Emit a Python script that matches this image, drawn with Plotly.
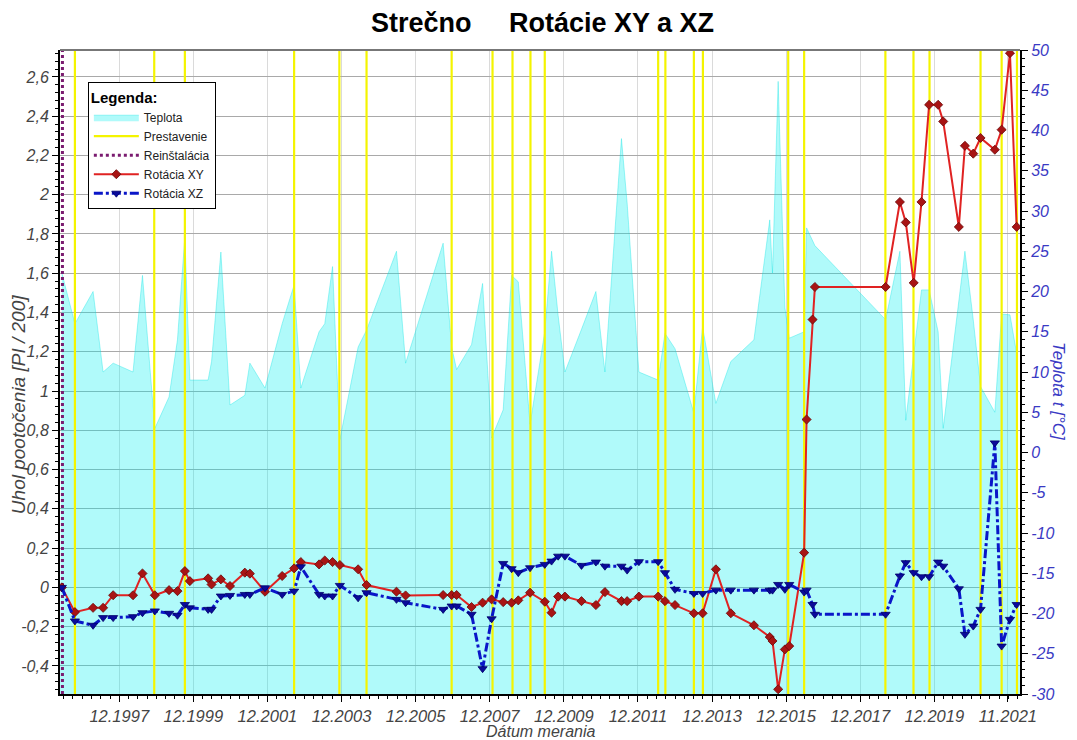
import plotly.graph_objects as go

# ---------------- data ----------------
dates = [
    "1996-05-14", "1996-09-20", "1997-03-18", "1997-06-25", "1997-10-02",
    "1998-04-16", "1998-07-18", "1998-11-17", "1999-04-06", "1999-06-28",
    "1999-09-09", "1999-10-28", "2000-04-25", "2000-05-29", "2000-08-29",
    "2000-11-27", "2001-04-22", "2001-06-11", "2001-11-07", "2002-04-25",
    "2002-08-21", "2002-10-26", "2003-04-24", "2003-06-19", "2003-09-04",
    "2003-11-15", "2004-05-13", "2004-08-04", "2005-05-26", "2005-08-24",
    "2006-08-29", "2006-11-21", "2007-01-09", "2007-06-05", "2007-09-22",
    "2007-12-20", "2008-04-12", "2008-07-04", "2008-09-08", "2009-01-02",
    "2009-05-27", "2009-08-02", "2009-10-06", "2009-12-12", "2010-05-24",
    "2010-10-13", "2011-01-10", "2011-06-22", "2011-08-17", "2011-12-11",
    "2012-06-18", "2012-08-24", "2012-12-01", "2013-06-05", "2013-08-30",
    "2014-01-08", "2014-06-04", "2015-01-18", "2015-06-23", "2015-07-20",
    "2015-09-14", "2015-11-19", "2016-01-01", "2016-05-27", "2016-06-20",
    "2016-08-18", "2016-09-10", "2018-08-08", "2018-12-27", "2019-02-23",
    "2019-05-12", "2019-07-28", "2019-10-11", "2020-01-08", "2020-02-27",
    "2020-07-30", "2020-09-28", "2020-12-19", "2021-03-01", "2021-07-20",
    "2021-09-25", "2021-12-16", "2022-02-20",
]

rot_xy = [
    0.0, -0.126, -0.104, -0.104, -0.04,
    -0.04, 0.071, -0.04, -0.014, -0.019,
    0.083, 0.032, 0.046, 0.015, 0.041,
    0.007, 0.075, 0.070, -0.022, 0.058,
    0.097, 0.129, 0.117, 0.137, 0.129,
    0.114, 0.092, 0.012, -0.022, -0.041,
    -0.039, -0.039, -0.039, -0.100, -0.078,
    -0.061, -0.075, -0.078, -0.066, -0.027,
    -0.073, -0.129, -0.047, -0.047, -0.070,
    -0.090, -0.024, -0.070, -0.070, -0.047,
    -0.047, -0.070, -0.090, -0.132, -0.132,
    0.092, -0.132, -0.193, -0.253, -0.273,
    -0.519, -0.316, -0.299, 0.177, 0.855,
    1.364, 1.530, 1.530, 1.963, 1.859,
    1.551, 1.963, 2.458, 2.458, 2.373,
    1.836, 2.249, 2.209, 2.289, 2.229,
    2.331, 2.721, 1.836,
]

rot_xz = [
    0.0, -0.171, -0.193, -0.154, -0.154,
    -0.149, -0.129, -0.120, -0.132, -0.142,
    -0.087, -0.104, -0.112, -0.112, -0.044,
    -0.041, -0.036, -0.036, -0.002, -0.036,
    -0.019, 0.105, -0.036, -0.044, -0.044,
    0.010, -0.053, -0.027, -0.061, -0.078,
    -0.112, -0.095, -0.095, -0.137, -0.414,
    -0.160, 0.122, 0.095, 0.075, 0.100,
    0.117, 0.134, 0.159, 0.159, 0.112,
    0.129, 0.108, 0.108, 0.088, 0.131,
    0.131, 0.075, -0.010, -0.031, -0.031,
    -0.014, -0.014, -0.014, -0.014, -0.014,
    0.015, -0.010, 0.015, -0.024, -0.014,
    -0.087, -0.137, -0.137, 0.058, 0.126,
    0.075, 0.054, 0.054, 0.129, 0.108,
    -0.007, -0.239, -0.197, -0.112, 0.736,
    -0.299, -0.163, -0.087,
]

teplota = [
    22.3, 16.0, 20.0, 10.0, 11.1,
    10.0, 22.0, 3.0, 6.9, 14.0,
    26.8, 9.0, 9.0, 11.3, 24.9,
    5.9, 7.1, 11.1, 8.0, 16.0,
    20.8, 8.0, 15.0, 16.0, 23.1,
    1.6, 13.1, 15.2, 25.0, 11.1,
    26.0, 13.1, 10.3, 13.4, 21.0,
    1.8, 5.3, 22.0, 21.2, 3.5,
    15.0, 25.0, 17.0, 10.0, 15.3,
    20.0, 10.0, 39.0, 31.0, 10.0,
    9.0, 14.8, 12.9, 4.9, 15.6,
    6.1, 11.3, 14.0, 28.9, 22.3,
    46.1, 18.0, 14.2, 15.0, 27.9,
    26.2, 25.7, 16.5, 25.0, 4.0,
    12.0, 20.2, 20.2, 15.0, 3.0,
    19.0, 25.0, 16.5, 8.2, 5.0,
    17.2, 17.1, 12.3,
]

prestavenie = [
    "1996-09-20", "1998-11-11", "1999-09-09", "2002-08-21", "2003-11-10",
    "2004-08-04", "2006-11-21", "2007-12-29", "2008-07-13", "2009-01-06",
    "2009-05-27", "2012-06-18", "2012-08-28", "2013-06-05", "2013-09-02",
    "2015-12-22", "2016-05-27", "2018-08-06", "2019-05-10", "2019-10-15",
    "2021-03-01", "2021-09-25", "2022-02-23",
]

reinstalacia = ["1996-05-20"]

x_tick_dates = ["1997-12-01", "1999-12-01", "2001-12-01", "2003-12-01",
                "2005-12-01", "2007-12-01", "2009-12-01", "2011-12-01",
                "2013-12-01", "2015-12-01", "2017-12-01", "2019-12-01",
                "2021-11-25"]
x_tick_labels = ["12.1997", "12.1999", "12.2001", "12.2003", "12.2005",
                 "12.2007", "12.2009", "12.2011", "12.2013", "12.2015",
                 "12.2017", "12.2019", "11.2021"]

left_ticks = [-0.4, -0.2, 0, 0.2, 0.4, 0.6, 0.8, 1.0, 1.2, 1.4, 1.6, 1.8,
              2.0, 2.2, 2.4, 2.6]
right_ticks = [-30, -25, -20, -15, -10, -5, 0, 5, 10, 15, 20, 25, 30, 35,
               40, 45, 50]

X_RANGE = ["1996-04-26", "2022-03-25"]
T_RANGE = [-30, 50]
R_RANGE = [-0.543, 2.737]


def fmt(v):
    s = f"{round(v, 1):g}"
    return s.replace(".", ",")


FONT = "Liberation Sans, Arial, sans-serif"

fig = go.Figure()

# baseline for area fill (bottom of temperature axis)
fig.add_trace(go.Scatter(
    x=[X_RANGE[0], X_RANGE[1]], y=[T_RANGE[0], T_RANGE[0]], yaxis="y",
    mode="lines", line=dict(width=0, color="rgba(0,0,0,0)"),
    showlegend=False, hoverinfo="skip"))

fig.add_trace(go.Scatter(
    x=dates, y=teplota, yaxis="y", name="Teplota", mode="lines",
    fill="tonexty", fillcolor="rgba(0,238,238,0.31)",
    line=dict(width=1, color="rgba(0,225,225,0.35)"), hoverinfo="skip"))

vx, vy = [], []
for d in prestavenie:
    vx += [d, d, None]
    vy += [T_RANGE[0], T_RANGE[1], None]
fig.add_trace(go.Scatter(
    x=vx, y=vy, yaxis="y", name="Prestavenie", mode="lines",
    line=dict(color="#f4f400", width=2.2), hoverinfo="skip"))

rx, ry = [], []
for d in reinstalacia:
    rx += [d, d, None]
    ry += [T_RANGE[0], T_RANGE[1], None]
fig.add_trace(go.Scatter(
    x=rx, y=ry, yaxis="y", name="Reinštalácia", mode="lines",
    line=dict(color="#7b1c70", width=3, dash="dot"), hoverinfo="skip"))

fig.add_trace(go.Scatter(
    x=dates, y=rot_xy, yaxis="y2", name="Rotácia XY", mode="lines+markers",
    line=dict(color="#e02222", width=2),
    marker=dict(symbol="diamond", size=7, color="#a81414",
                line=dict(color="#6a0808", width=0.8))))

fig.add_trace(go.Scatter(
    x=dates, y=rot_xz, yaxis="y2", name="Rotácia XZ", mode="lines+markers",
    line=dict(color="#0a16c8", width=3, dash="9px,3px,3px,3px"),
    marker=dict(symbol="triangle-down", size=8, color="#0a0a9a",
                line=dict(color="#00006a", width=0.8))))

# the page body adds an 8px offset; the figure is sized to fit the window
W, H = 1069, 732
fig.update_layout(
    width=W, height=H,
    margin=dict(l=52, r=57, t=42, b=46, autoexpand=False),
    paper_bgcolor="white", plot_bgcolor="white",
    font=dict(family=FONT, color="#444"),
    title=dict(text="<b>Strečno\u00a0\u00a0\u00a0\u00a0\u00a0Rotácie XY a XZ</b>",
               x=0.5, xanchor="center", y=1 - 15 / H, yanchor="middle",
               font=dict(size=27, color="black", family=FONT)),
    xaxis=dict(
        type="date", range=X_RANGE, automargin=False,
        tickmode="array", tickvals=x_tick_dates, ticktext=x_tick_labels,
        tickfont=dict(size=16.5, color="#444", style="italic"),
        showgrid=True, gridcolor="#dadada", gridwidth=1,
        showline=True, linecolor="black", linewidth=2,
        ticks="outside", ticklen=6, tickcolor="black", tickwidth=1,
        minor=dict(dtick="M3", tick0="1997-12-01", ticks="outside",
                   ticklen=3, tickcolor="black", showgrid=False),
        zeroline=False),
    yaxis=dict(
        range=T_RANGE, side="right", automargin=False,
        tickmode="array", tickvals=right_ticks,
        ticktext=[str(v) for v in right_ticks],
        tickfont=dict(size=16, color="#3a3ac4", style="italic"),
        showgrid=False, zeroline=False,
        showline=True, linecolor="black", linewidth=2,
        ticks="outside", ticklen=6, tickcolor="black",
        minor=dict(dtick=1, tick0=0, ticks="outside", ticklen=3,
                   tickcolor="black", showgrid=False)),
    yaxis2=dict(
        range=R_RANGE, overlaying="y", side="left", automargin=False,
        tickmode="array", tickvals=left_ticks,
        ticktext=[fmt(v) for v in left_ticks],
        tickfont=dict(size=16, color="#444", style="italic"),
        showgrid=True, gridcolor="#a9a9a9", gridwidth=1, zeroline=False,
        showline=True, linecolor="black", linewidth=2,
        ticks="outside", ticklen=6, tickcolor="black",
        minor=dict(dtick=0.04, tick0=0, ticks="outside", ticklen=3,
                   tickcolor="black", showgrid=False)),
    legend=dict(
        x=0.029, y=0.95, xanchor="left", yanchor="top",
        bgcolor="white", bordercolor="black", borderwidth=1,
        font=dict(size=12, color="#222", family=FONT),
        title=dict(text="<b>Legenda:</b>",
                   font=dict(size=15, color="black", family=FONT)),
        tracegroupgap=0, traceorder="normal", itemwidth=45),
    shapes=[dict(type="line", xref="paper", yref="paper", x0=0, x1=1,
                 y0=1, y1=1, line=dict(color="#777", width=2))],
    annotations=[
        dict(text="Uhol pootočenia [PI / 200]", xref="paper", yref="paper",
             x=-0.0438, y=0.45, xanchor="center", yanchor="middle",
             textangle=-90, showarrow=False,
             font=dict(size=19, color="#444", style="italic", family=FONT)),
        dict(text="Teplota t [°C]", xref="paper", yref="paper",
             x=1.04, y=0.47, xanchor="center", yanchor="middle",
             textangle=90, showarrow=False,
             font=dict(size=17, color="#3a3ac4", style="italic", family=FONT)),
        dict(text="Dátum merania", xref="paper", yref="paper",
             x=0.5, y=-0.0585, xanchor="center", yanchor="middle",
             showarrow=False,
             font=dict(size=16, color="#444", style="italic", family=FONT)),
    ],
    hovermode=False,
)

fig.write_html("out.html")
